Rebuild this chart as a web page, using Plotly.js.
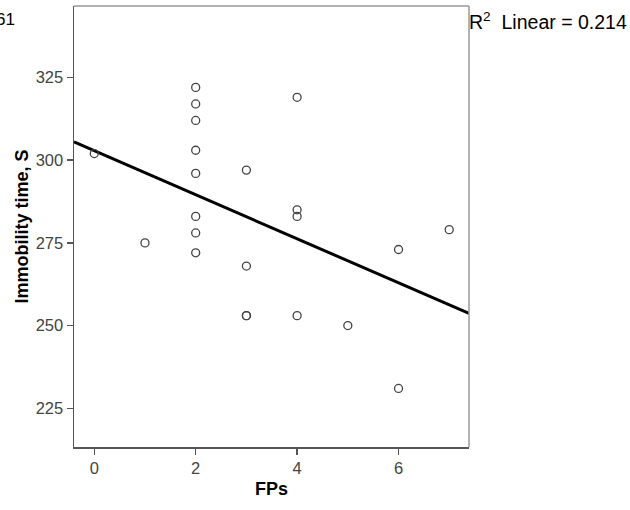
<!DOCTYPE html>
<html>
<head>
<meta charset="utf-8">
<script src="https://cdn.plot.ly/plotly-3.0.1.min.js"></script>
<style>html,body{margin:0;padding:0;background:#fff;}#chart{width:630px;height:510px;}</style>
</head>
<body>
<div id="chart"></div>
<script>
// Data
const fps = [0, 1, 2, 2, 2, 2, 2, 2, 2, 2, 3, 3, 3, 3, 4, 4, 4, 4, 5, 6, 6, 7];
const immobility = [302, 275, 322, 317, 312, 303, 296, 283, 278, 272, 297, 268, 253, 253, 319, 285, 283, 253, 250, 273, 231, 279];
const xTicks = [0, 2, 4, 6];
const yTicks = [225, 250, 275, 300, 325];
const xRange = [-0.4, 7.39];
const yRange = [213.3, 346.6];
const r2Label = 'R<sup>2</sup>  Linear = 0.214';

// least-squares fit from the data
const n = fps.length;
const mx = fps.reduce((a, b) => a + b, 0) / n;
const my = immobility.reduce((a, b) => a + b, 0) / n;
let sxy = 0, sxx = 0;
for (let i = 0; i < n; i++) { sxy += (fps[i] - mx) * (immobility[i] - my); sxx += (fps[i] - mx) ** 2; }
const slope = sxy / sxx;
const intercept = my - slope * mx;
const fitX = [xRange[0], xRange[1]];
const fitY = fitX.map(x => intercept + slope * x);

const font = 'Liberation Sans, Arial, sans-serif';
const data = [
  {
    x: fitX, y: fitY, type: 'scatter', mode: 'lines',
    line: {color: '#000', width: 3}, hoverinfo: 'skip'
  },
  {
    x: fps, y: immobility, type: 'scatter', mode: 'markers',
    marker: {symbol: 'circle-open', size: 8, color: '#444', line: {width: 1.3, color: '#444'}}
  }
];
const layout = {
  width: 630, height: 510,
  margin: {l: 74, r: 161, t: 6, b: 63},
  paper_bgcolor: '#fff', plot_bgcolor: '#fff',
  showlegend: false,
  font: {family: font, color: '#333'},
  xaxis: {
    range: xRange, tickvals: xTicks, ticktext: xTicks.map(String),
    showgrid: false, zeroline: false, showline: true, linecolor: '#555', linewidth: 1.5,
    ticks: 'outside', ticklen: 6, tickcolor: '#555', tickwidth: 1.5,
    tickfont: {family: font, size: 16.5, color: '#444'},
    title: {text: '<b>FPs</b>', font: {family: font, size: 18, color: '#000'}, standoff: 6}
  },
  yaxis: {
    range: yRange, tickvals: yTicks, ticktext: yTicks.map(String),
    showgrid: false, zeroline: false, showline: true, linecolor: '#555', linewidth: 1.5,
    ticks: 'outside', ticklen: 6, tickcolor: '#555', tickwidth: 1.5,
    tickfont: {family: font, size: 16.5, color: '#444'}
  },
  shapes: [
    {type: 'line', xref: 'paper', yref: 'paper', x0: 0, x1: 1, y0: 1, y1: 1, line: {color: '#999', width: 1.5}},
    {type: 'line', xref: 'paper', yref: 'paper', x0: 1, x1: 1, y0: 0, y1: 1, line: {color: '#999', width: 1.5}}
  ],
  annotations: [
    {xref: 'paper', yref: 'paper', x: (21 - 74) / 395, y: 0.5, xanchor: 'center', yanchor: 'middle', textangle: -90,
     text: '<b>Immobility time, S</b>', showarrow: false, font: {family: font, size: 18, color: '#000'}},
    {xref: 'paper', yref: 'paper', x: 1.0, y: 0.966, xanchor: 'left', yanchor: 'middle', xshift: -2,
     text: r2Label, showarrow: false, font: {family: font, size: 19.5, color: '#000'}},
    {xref: 'paper', yref: 'paper', x: (17 - 74) / 395, y: 0.97, xanchor: 'right', yanchor: 'middle',
     text: '61', showarrow: false, font: {family: font, size: 17, color: '#000'}}
  ]
};
Plotly.newPlot('chart', data, layout, {staticPlot: true, displayModeBar: false});
</script>
</body>
</html>
